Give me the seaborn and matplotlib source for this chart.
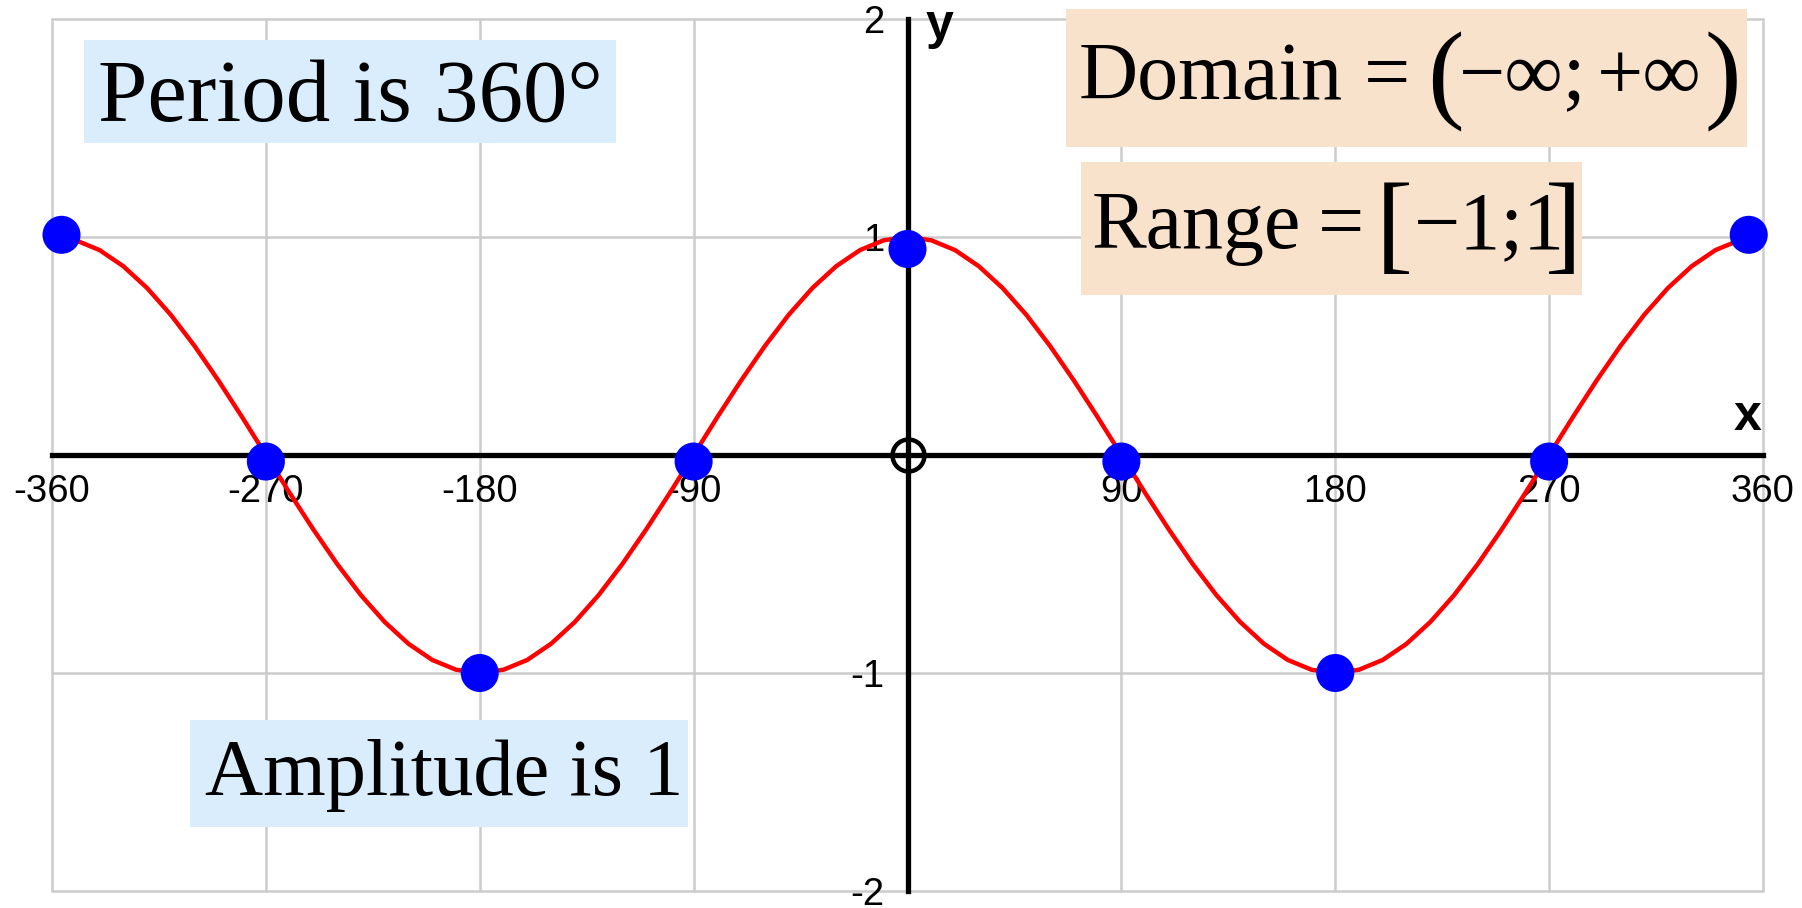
import matplotlib.pyplot as plt
from matplotlib.patches import Rectangle
import seaborn as sns

# red curve, every 10 degrees
curve_x = list(range(-360, 361, 10))
curve_y = [1.0, 0.985, 0.94, 0.866, 0.766, 0.643, 0.5, 0.342, 0.174, 0.0,
           -0.174, -0.342, -0.5, -0.643, -0.766, -0.866, -0.94, -0.985, -1.0,
           -0.985, -0.94, -0.866, -0.766, -0.643, -0.5, -0.342, -0.174, 0.0,
           0.174, 0.342, 0.5, 0.643, 0.766, 0.866, 0.94, 0.985, 1.0,
           0.985, 0.94, 0.866, 0.766, 0.643, 0.5, 0.342, 0.174, 0.0,
           -0.174, -0.342, -0.5, -0.643, -0.766, -0.866, -0.94, -0.985, -1.0,
           -0.985, -0.94, -0.866, -0.766, -0.643, -0.5, -0.342, -0.174, 0.0,
           0.174, 0.342, 0.5, 0.643, 0.766, 0.866, 0.94, 0.985, 1.0]

# blue key points
dot_x = [-356, -270, -180, -90, 0, 90, 180, 270, 354]
dot_y = [1.01, -0.03, -1.0, -0.03, 0.945, -0.03, -1.0, -0.03, 1.01]

origin_x = [0]
origin_y = [0]

x_ticks = [-360, -270, -180, -90, 0, 90, 180, 270, 360]
x_labels = ['-360', '-270', '-180', '-90', '', '90', '180', '270', '360']
y_ticks = [-2, -1, 0, 1, 2]
y_labels = ['-2', '-1', '', '1', '2']

W, H = 1802, 908
BLUE_BOX = '#daedfc'
PEACH_BOX = '#f9e2cc'
SERIF = ['Liberation Serif', 'DejaVu Serif']


def fx(px):
    return px / W


def fy(py):
    return 1 - py / H


sns.set_style("white")
plt.rcParams['font.family'] = ['Liberation Sans', 'DejaVu Sans']
plt.rcParams['text.color'] = 'black'
plt.rcParams['xtick.color'] = 'black'
plt.rcParams['ytick.color'] = 'black'
plt.rcParams['axes.labelcolor'] = 'black'

fig = plt.figure(figsize=(W / 100, H / 100), dpi=100)
ax = fig.add_axes([fx(52), fy(891), 1711 / W, 872 / H])

sns.lineplot(x=curve_x, y=curve_y, color='red', lw=3.2, ax=ax, zorder=3)
sns.scatterplot(x=dot_x, y=dot_y, s=750, color='blue', edgecolor='none', linewidth=0,
                ax=ax, zorder=5, clip_on=False)
ax.plot(origin_x, origin_y, marker='o', ms=23, mfc='none', mec='black', mew=3.2,
        ls='none', zorder=4, clip_on=False)

ax.set_xlim(-360, 360)
ax.set_ylim(-2, 2)
ax.set_xticks(x_ticks)
ax.set_xticklabels(x_labels)
ax.set_yticks(y_ticks)
ax.set_yticklabels(y_labels)
ax.tick_params(direction='inout', length=10, width=3.6, labelsize=27.5,
               color='black', labelcolor='black')
ax.tick_params(axis='x', pad=9)
ax.tick_params(axis='y', pad=12)

for side in ['top', 'right']:
    ax.spines[side].set_visible(False)
for side in ['left', 'bottom']:
    ax.spines[side].set_position(('data', 0))
    ax.spines[side].set_linewidth(3.8)
    ax.spines[side].set_color('black')

ax.grid(True, color='#cccccc', lw=1.8)
ax.set_axisbelow(True)
for gl in ax.get_xgridlines() + ax.get_ygridlines():
    gl.set_clip_on(False)

ax.text(7.8, 1.908, 'y', fontsize=36, fontweight='bold', ha='left', va='baseline')
ax.text(353.3, 0.115, 'x', fontsize=36, fontweight='bold', ha='center', va='baseline')

# text boxes (pixel extents)
for x0, y0, x1, y1, col in [(84, 40, 616, 143, BLUE_BOX),
                             (190, 720, 688, 827, BLUE_BOX),
                             (1066, 9, 1747, 147, PEACH_BOX),
                             (1081, 162, 1582, 295, PEACH_BOX)]:
    fig.patches.append(Rectangle((fx(x0), fy(y1)), (x1 - x0) / W, (y1 - y0) / H,
                                 transform=fig.transFigure, facecolor=col,
                                 edgecolor='none', zorder=1))


def put(px, py, s, size):
    fig.text(fx(px), fy(py), s, fontsize=size, family=SERIF, ha='left', va='baseline', zorder=3)


put(98, 121, 'Period is 360°', 64)
put(205, 795, 'Amplitude is 1', 58)

put(1079, 99, 'Domain', 59)
put(1364, 99, '=', 59)
put(1427, 108, '(', 79)
put(1459, 99, '−∞;', 59)
put(1597, 99, '+∞', 59)
put(1705, 108, ')', 79)

put(1092, 248, 'Range', 59)
put(1318, 248, '=', 59)
put(1376, 259, '[', 80)
put(1414, 248, '−1;1', 59)
put(1545, 259, ']', 80)

fig.savefig('out.png', dpi=100)
